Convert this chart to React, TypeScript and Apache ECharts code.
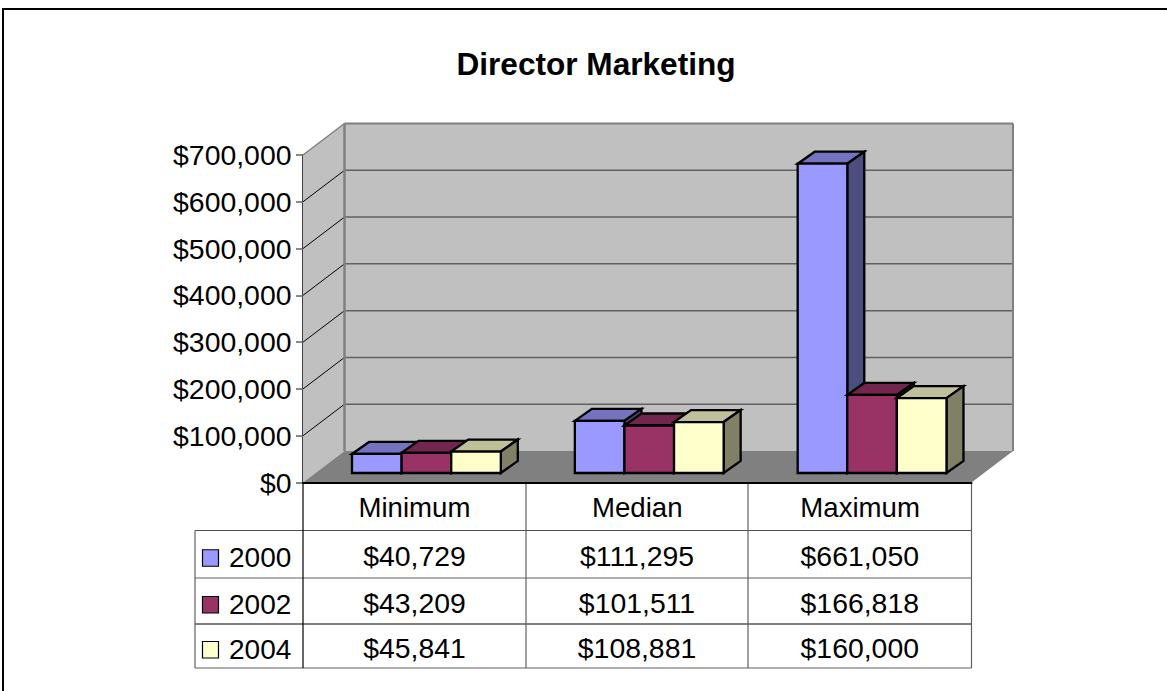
import React, { useEffect, useRef } from "react";
import * as echarts from "echarts";

const categories = ["Minimum", "Median", "Maximum"];
const years = ["2000", "2002", "2004"];
const values2000 = [40729, 111295, 661050];
const values2002 = [43209, 101511, 166818];
const values2004 = [45841, 108881, 160000];
const yTicks = [0, 100000, 200000, 300000, 400000, 500000, 600000, 700000];
const faceColors = ["#9999FF", "#993366", "#FFFFCC"];
const topColors = ["#7373BF", "#73264D", "#BFBF99"];
const sideColors = ["#4D4D80", "#4D1A33", "#808066"];

const FONT = "'Liberation Sans', Arial, sans-serif";
const money = (v: number) => "$" + v.toLocaleString("en-US");

const GL = 303, GT = 155, GW = 668.5, GH = 327.5;
const DX = 41.5, DY = -31.5;
const BAR_W = 49.6, BAR_DX = 12, BAR_DY = -9.5, D_X = 17, D_Y = -12;

const wallItem = (params: any, api: any) => {
  const x0 = params.coordSys.x, w = params.coordSys.width;
  const top = api.coord([0, 700000])[1], bot = api.coord([0, 0])[1];
  const grey = "#808080", wall = "#C0C0C0";
  const children: any[] = [
    { type: "rect", shape: { x: x0 + DX, y: top + DY, width: w, height: bot - top }, style: { fill: wall, stroke: "none" } },
    { type: "polygon", shape: { points: [[x0, top], [x0 + DX, top + DY], [x0 + DX, bot + DY], [x0, bot]] }, style: { fill: wall, stroke: "none" } },
    { type: "polygon", shape: { points: [[x0, bot], [x0 + DX, bot + DY], [x0 + DX + w, bot + DY], [x0 + w, bot]] }, style: { fill: grey, stroke: "none" } },
  ];
  yTicks.forEach((t) => {
    const y = api.coord([0, t])[1];
    if (t > 0 && t < 700000) {
      children.push({ type: "line", shape: { x1: x0 + DX, y1: y + DY, x2: x0 + DX + w, y2: y + DY }, style: { stroke: "#606060", lineWidth: 1.5 } });
      children.push({ type: "line", shape: { x1: x0, y1: y, x2: x0 + DX, y2: y + DY }, style: { stroke: "#000", lineWidth: 1 } });
    }
  });
  children.push(
    { type: "line", shape: { x1: x0, y1: top, x2: x0 + DX, y2: top + DY }, style: { stroke: grey, lineWidth: 1.5 } },
    { type: "line", shape: { x1: x0 + DX, y1: top + DY, x2: x0 + DX + w, y2: top + DY }, style: { stroke: grey, lineWidth: 2 } },
    { type: "line", shape: { x1: x0 + DX, y1: top + DY, x2: x0 + DX, y2: bot + DY }, style: { stroke: grey, lineWidth: 2.5 } },
    { type: "line", shape: { x1: x0 + DX + w, y1: top + DY, x2: x0 + DX + w, y2: bot + DY }, style: { stroke: grey, lineWidth: 2 } }
  );
  return { type: "group", children };
};

const barSeries = (name: string, data: number[], idx: number) => ({
  type: "custom",
  name,
  z: 5 + idx,
  silent: true,
  clip: false,
  data: data.map((v, i) => [i, v]),
  encode: { x: 0, y: 1 },
  renderItem: (_p: any, api: any) => {
    const base = api.coord([api.value(0), 0]);
    const head = api.coord([api.value(0), api.value(1)]);
    const x1 = base[0] + BAR_DX + (idx - 1.5) * BAR_W;
    const x2 = x1 + BAR_W;
    const y1 = head[1] + BAR_DY;
    const y2 = base[1] + BAR_DY;
    const line = { stroke: "#000", lineWidth: 2.3, lineJoin: "miter" };
    return {
      type: "group",
      children: [
        { type: "polygon", shape: { points: [[x1, y1], [x1 + D_X, y1 + D_Y], [x2 + D_X, y1 + D_Y], [x2, y1]] }, style: { fill: topColors[idx], ...line } },
        { type: "polygon", shape: { points: [[x2, y1], [x2 + D_X, y1 + D_Y], [x2 + D_X, y2 + D_Y], [x2, y2]] }, style: { fill: sideColors[idx], ...line } },
        { type: "rect", shape: { x: x1, y: y1, width: BAR_W, height: y2 - y1 }, style: { fill: faceColors[idx], ...line } },
      ],
    };
  },
});

const tableGraphics = () => {
  const rows = [482.5, 530.5, 578, 624, 668];
  const cols = [303, 526, 748, 971.5];
  const LEFT = 195;
  const els: any[] = [];
  const hline = (x1: number, x2: number, y: number, c: string) =>
    els.push({ type: "line", shape: { x1, y1: y, x2, y2: y }, style: { stroke: c, lineWidth: 1.2 } });
  const vline = (x: number, y1: number, y2: number, c: string) =>
    els.push({ type: "line", shape: { x1: x, y1, x2: x, y2 }, style: { stroke: c, lineWidth: 1.2 } });
  hline(LEFT, cols[3], rows[1], "#505050");
  hline(LEFT, cols[3], rows[2], "#606060");
  hline(LEFT, cols[3], rows[3], "#000");
  hline(LEFT, cols[3], rows[4], "#606060");
  vline(LEFT, rows[1], rows[4], "#606060");
  vline(cols[0], rows[0], rows[4], "#000");
  vline(cols[1], rows[0], rows[4], "#606060");
  vline(cols[2], rows[0], rows[4], "#606060");
  vline(cols[3], rows[0], rows[4], "#606060");
  [values2000, values2002, values2004].forEach((vals, r) => {
    const cy = (rows[r + 1] + rows[r + 2]) / 2;
    els.push({
      type: "rect",
      shape: { x: 202.5, y: cy - 4.5, width: 16, height: 16.5 },
      style: { fill: faceColors[r], stroke: "#000", lineWidth: 1.2 },
    });
    els.push({
      type: "text", x: 229, y: cy + 3,
      style: { text: years[r], fill: "#000", font: `28px ${FONT}`, textAlign: "left", textVerticalAlign: "middle" },
    });
    vals.forEach((v, c) => {
      els.push({
        type: "text", x: (cols[c] + cols[c + 1]) / 2, y: cy + 2,
        style: { text: money(v), fill: "#000", font: `28.4px ${FONT}`, textAlign: "center", textVerticalAlign: "middle" },
      });
    });
  });
  els.push({
    type: "polyline",
    shape: { points: [[3, 700], [3, 9], [1170, 9]] },
    style: { stroke: "#000", fill: "none", lineWidth: 2 },
  });
  return els;
};

export default function App() {
  const ref = useRef<HTMLDivElement>(null);
  useEffect(() => {
    document.body.style.margin = "0";
    const chart = echarts.init(ref.current!, undefined, { renderer: "svg" });
    chart.setOption({
      animation: false,
      backgroundColor: "#fff",
      textStyle: { fontFamily: FONT },
      title: {
        text: "Director Marketing",
        left: 591,
        top: 43,
        textAlign: "center",
        textStyle: { fontFamily: FONT, fontSize: 31.6, fontWeight: "bold", color: "#000" },
      },
      grid: { left: GL, top: GT, width: GW, height: GH, containLabel: false },
      xAxis: {
        type: "category",
        data: categories,
        axisLine: { lineStyle: { color: "#000", width: 2 } },
        axisTick: { show: false },
        axisLabel: { fontFamily: FONT, fontSize: 27.6, color: "#000", margin: 11, interval: 0 },
        z: 6,
      },
      yAxis: {
        type: "value",
        min: 0,
        max: 700000,
        interval: 100000,
        splitLine: { show: false },
        axisLine: { show: true, lineStyle: { color: "#000", width: 1.5 } },
        axisTick: { show: true, length: 7, lineStyle: { color: "#606060", width: 1.5 } },
        axisLabel: { fontFamily: FONT, fontSize: 28.4, color: "#000", margin: 11.5, formatter: (v: number) => money(v) },
      },
      graphic: { elements: tableGraphics() },
      series: [
        { type: "custom", z: 1, silent: true, clip: false, data: [[0, 0]], encode: { x: 0, y: 1 }, renderItem: wallItem },
        barSeries("2000", values2000, 0),
        barSeries("2002", values2002, 1),
        barSeries("2004", values2004, 2),
      ],
    });
    return () => chart.dispose();
  }, []);
  return <div ref={ref} style={{ position: "fixed", left: 0, top: 0, width: 1167, height: 691 }} />;
}
